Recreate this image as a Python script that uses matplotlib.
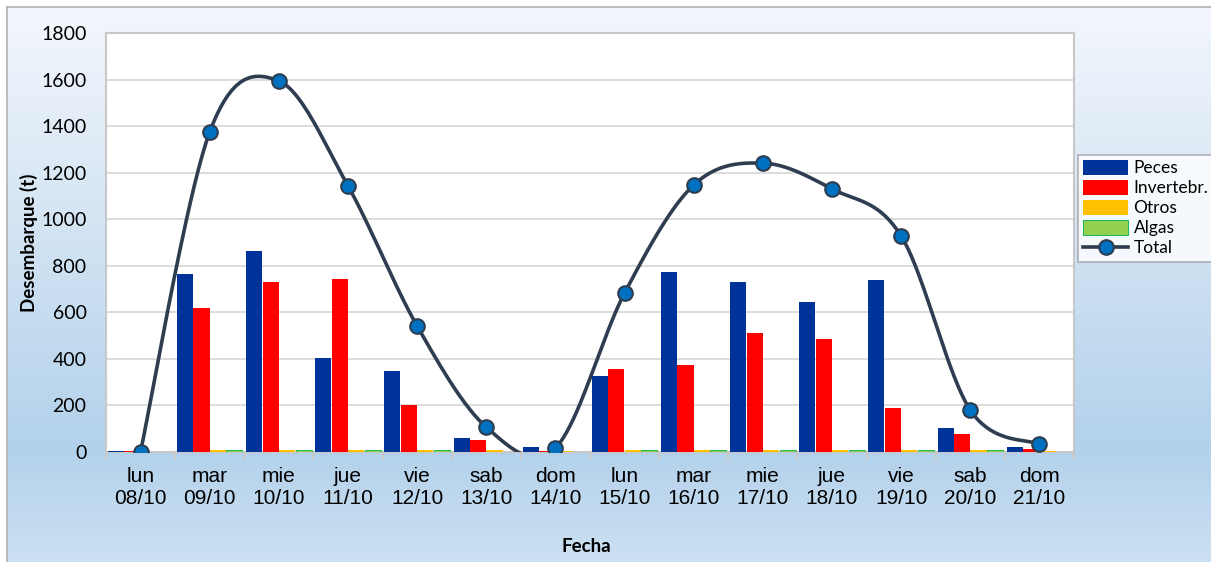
import matplotlib
matplotlib.use("Agg")
import matplotlib.pyplot as plt
import numpy as np
from matplotlib.lines import Line2D

# datos
dias = ["lun\n08/10", "mar\n09/10", "mie\n10/10", "jue\n11/10", "vie\n12/10", "sab\n13/10", "dom\n14/10",
        "lun\n15/10", "mar\n16/10", "mie\n17/10", "jue\n18/10", "vie\n19/10", "sab\n20/10", "dom\n21/10"]
peces = [3, 765, 863, 404, 348, 60, 22, 327, 773, 730, 644, 739, 104, 20]
invertebr = [3, 619, 730, 743, 202, 52, 4, 357, 374, 511, 485, 189, 77, 14]
otros = [0, 9, 9, 9, 9, 8, 6, 9, 9, 9, 9, 9, 9, 6]
algas = [0, 9, 9, 9, 9, 0, 0, 9, 9, 9, 9, 9, 9, 0]
total = [2, 1375, 1594, 1143, 541, 107, 18, 683, 1147, 1241, 1130, 928, 180, 34]

W, H = 1211, 562
fig = plt.figure(figsize=(W / 100, H / 100), dpi=100)

# fondo degradado
bg = fig.add_axes([0, 0, 1, 1], zorder=-10)
stops_y = [0.0, 0.80, 1.0]
top = np.array([0.96, 0.97, 0.99])
mid = np.array([0.70, 0.82, 0.92])
bot = np.array([0.80, 0.88, 0.95])
yy = np.linspace(0, 1, 300)
cols = np.zeros((300, 3))
for c in range(3):
    cols[:, c] = np.interp(yy, stops_y, [top[c], mid[c], bot[c]])
grad = np.repeat(cols[:, None, :], 2, axis=1)
bg.imshow(grad, aspect="auto", extent=[0, 1, 0, 1], origin="upper")
bg.fill_between([0, 6 / W], 0, 1, color="white")
bg.fill_between([0, 1], 1 - 6 / H, 1, color="white")
bg.plot([6.5 / W, 6.5 / W], [0, 1 - 6.5 / H], color="#b0b0b0", lw=1.2)
bg.plot([6.5 / W, 1], [1 - 6.5 / H, 1 - 6.5 / H], color="#b0b0b0", lw=1.2)
bg.set_xlim(0, 1)
bg.set_ylim(0, 1)
bg.axis("off")

ax = fig.add_axes([106 / W, 1 - 452 / H, (1074 - 106) / W, (452 - 33) / H])
ax.set_facecolor("white")

x = np.arange(len(dias))
bw = 0.232
series = [
    (peces, "Peces", "#003399", "#003399"),
    (invertebr, "Invertebr.", "#ff0000", "#ff0000"),
    (otros, "Otros", "#ffc000", "#ffc000"),
    (algas, "Algas", "#92d050", "#00b050"),
]
handles = []
for k, (vals, lab, fc, ec) in enumerate(series):
    b = ax.bar(x + (k - 1.5) * (bw + 0.006), vals, width=bw, color=fc, edgecolor=ec,
               linewidth=0.6 if lab == "Algas" else 0, label=lab, zorder=3)
    handles.append(b)

# linea suavizada (tipo Excel, Catmull-Rom)
P = np.column_stack([x, total]).astype(float)
pts = []
t = np.linspace(0, 1, 40)[:, None]
for i in range(len(P) - 1):
    p0 = P[i - 1] if i > 0 else P[i]
    p1, p2 = P[i], P[i + 1]
    p3 = P[i + 2] if i + 2 < len(P) else P[i + 1]
    c1 = p1 + (p2 - p0) / 6
    c2 = p2 - (p3 - p1) / 6
    seg = (1 - t) ** 3 * p1 + 3 * (1 - t) ** 2 * t * c1 + 3 * (1 - t) * t ** 2 * c2 + t ** 3 * p2
    pts.append(seg)
curve = np.vstack(pts)
ax.plot(curve[:, 0], curve[:, 1], color="#2f3d50", lw=2.6, zorder=4, solid_capstyle="round")
ax.plot(x, total, linestyle="none", marker="o", ms=10.5, mfc="#0070c0", mec="#2f3d50", mew=1.5, zorder=5)
tot_handle = Line2D([], [], color="#2f3d50", lw=2.6, marker="o", ms=10.5, mfc="#0070c0", mec="#2f3d50", mew=1.5)

ax.set_xlim(-0.5, len(dias) - 0.5)
ax.set_ylim(0, 1800)
ax.set_yticks(np.arange(0, 1801, 200))
ax.yaxis.grid(True, color="#d9d9d9", lw=1.3, zorder=0)
ax.set_axisbelow(True)
for s in ax.spines.values():
    s.set_color("#c8c8c8")
    s.set_linewidth(1.5)
ax.tick_params(axis="y", length=0, pad=14, labelsize=14)
for lb in ax.get_yticklabels():
    lb.set_family("Lato")
ax.set_xticks(x)
ax.set_xticklabels(dias, fontsize=15, family="Liberation Sans", linespacing=1.15)
ax.set_xticks(np.arange(-0.5, len(dias), 1), minor=True)
ax.tick_params(axis="x", which="major", length=0, pad=11)
ax.tick_params(axis="x", which="minor", length=6, width=1.5, color="#c8c8c8")

ax.set_ylabel("Desembarque (t)", fontsize=13.5, fontweight="bold", family="Lato", labelpad=2)
fig.text(586 / W, 1 - 546 / H, "Fecha", fontsize=13.5, fontweight="bold", family="Lato",
         ha="center", va="center")

leg = fig.legend(handles + [tot_handle], ["Peces", "Invertebr.", "Otros", "Algas", "Total"],
                 loc="upper left", bbox_to_anchor=(1078 / W, 1 - 155 / H),
                 prop={"family": "Lato", "size": 12.5}, frameon=True, fancybox=False,
                 handlelength=2.6, handleheight=0.9, handletextpad=0.3, labelspacing=0.22,
                 borderpad=0.3, borderaxespad=0)
leg.get_frame().set_edgecolor("#a0a0a0")
leg.get_frame().set_linewidth(1.2)

fig.savefig("out.png", dpi=100)
